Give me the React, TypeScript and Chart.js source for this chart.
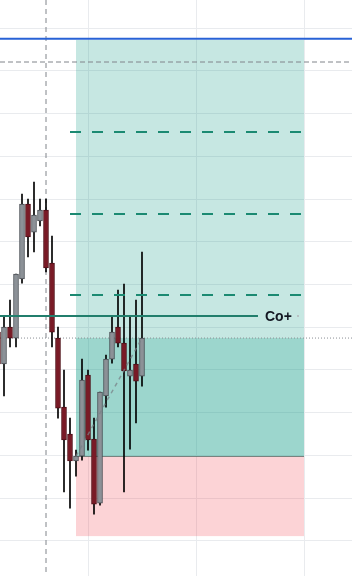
import React, { useEffect, useRef } from "react";
import { Chart, registerables } from "chart.js";

Chart.register(...registerables);

// ---- data ----
const BAR_INDEX = [0, 1, 2, 3, 4, 5, 6, 7, 8, 9, 10, 11, 12, 13, 14, 15, 16, 17, 18, 19, 20, 21, 22, 23, 24];
const OPEN = [94.43, 90.69, 95.02, 93.73, 100.64, 109.42, 106.14, 107.43, 108.72, 102.51, 93.73, 85.65, 82.49, 79.33, 79.91, 89.4, 81.9, 74.41, 86.94, 91.27, 95.02, 93.14, 89.28, 90.69, 89.28];
const HIGH = [94.43, 96.31, 98.18, 101.22, 110.59, 110.01, 112.0, 110.01, 110.01, 105.67, 95.02, 89.98, 84.36, 80.61, 91.27, 89.98, 84.36, 87.41, 91.74, 96.31, 99.35, 100.05, 96.31, 98.18, 103.8];
const LOW = [90.69, 86.94, 92.68, 92.68, 100.17, 103.22, 103.8, 106.85, 101.46, 92.68, 84.36, 75.7, 73.82, 77.57, 79.44, 80.61, 73.12, 74.17, 85.65, 90.8, 92.68, 75.7, 80.73, 83.78, 88.11];
const CLOSE = [90.69, 95.02, 93.73, 101.22, 109.42, 105.56, 108.13, 108.72, 101.93, 94.43, 85.53, 81.79, 79.33, 79.91, 88.81, 81.79, 74.29, 87.41, 91.27, 94.43, 93.14, 89.87, 89.98, 88.69, 93.73];

const X_MIN = 0.333;
const X_MAX = 59;
const Y_MIN = 65.87;
const Y_MAX = 133.31;
const X_GRID = [15, 33, 51];
const Y_GRID = [70, 75, 80, 85, 90, 95, 100, 105, 110, 115, 120, 125, 130];

const BLUE_LEVEL = 128.78;
const TARGET_LEVELS = [117.85, 108.25, 98.77];
const TARGET_LINE_START = 12;
const TARGET_LINE_END = 50.67;
const CO_LEVEL = 96.31;
const CO_LINE_END = 43.33;
const CO_LABEL = "Co+";
const CO_LABEL_X = 44.5;
const ENTRY = 93.73;
const STOP = 79.91;
const ZONE_TOP = 128.63;
const ZONE_BOTTOM = 70.54;
const POS_START = 13;
const POS_END = 51;
const CROSS_X = 8;
const CROSS_Y = 126.05;
const PATH_FROM = { x: 13, y: 79.91 };
const PATH_TO = { x: 24, y: 93.73 };

const UP_FILL = "#8c9197";
const UP_EDGE = "#4b4f55";
const DOWN_FILL = "#7a1a26";
const DOWN_EDGE = "#4e0f17";

const zonesPlugin = {
  id: "zones",
  beforeDatasetsDraw(chart: any) {
    const { ctx, scales } = chart;
    const x = scales.x;
    const y = scales.y;
    const l = x.getPixelForValue(POS_START);
    const r = x.getPixelForValue(POS_END);
    const fillZone = (a: number, b: number, color: string) => {
      const t = y.getPixelForValue(a);
      const btm = y.getPixelForValue(b);
      ctx.save();
      ctx.fillStyle = color;
      ctx.fillRect(l, t, r - l, btm - t);
      ctx.restore();
    };
    fillZone(ZONE_TOP, ENTRY, "rgba(8,153,129,0.23)");
    fillZone(ENTRY, STOP, "rgba(8,153,129,0.40)");
    fillZone(STOP, ZONE_BOTTOM, "rgba(242,54,69,0.22)");
    const sy = Math.round(y.getPixelForValue(STOP)) + 0.5;
    ctx.save();
    ctx.strokeStyle = "rgba(90,110,105,0.8)";
    ctx.lineWidth = 1;
    ctx.beginPath();
    ctx.moveTo(l, sy);
    ctx.lineTo(r, sy);
    ctx.stroke();
    ctx.restore();
  },
  afterDatasetsDraw(chart: any) {
    const { ctx, scales } = chart;
    const x = scales.x;
    const y = scales.y;
    ctx.save();
    ctx.font = 'bold 14px "Liberation Sans", Arial, sans-serif';
    ctx.fillStyle = "#131722";
    ctx.textBaseline = "middle";
    ctx.textAlign = "left";
    ctx.fillText(CO_LABEL, x.getPixelForValue(CO_LABEL_X), y.getPixelForValue(CO_LEVEL) + 1);
    ctx.fillStyle = "#b0b4b8";
    ctx.beginPath();
    ctx.arc(x.getPixelForValue(50), y.getPixelForValue(CO_LEVEL), 1, 0, Math.PI * 2);
    ctx.fill();
    ctx.restore();
  },
};

function lineDs(points: { x: number; y: number }[], color: string, width: number, dash: number[] = [], order = 0) {
  return {
    type: "line" as const,
    data: points,
    borderColor: color,
    borderWidth: width,
    borderDash: dash,
    pointRadius: 0,
    fill: false,
    tension: 0,
    order,
  };
}

export default function App() {
  const ref = useRef<HTMLCanvasElement | null>(null);

  useEffect(() => {
    document.body.style.margin = "0";
    if (!ref.current) return;
    const isUp = BAR_INDEX.map((i) => CLOSE[i] >= OPEN[i]);
    const datasets: any[] = [
      lineDs([{ x: X_MIN, y: BLUE_LEVEL }, { x: X_MAX, y: BLUE_LEVEL }], "#2862d6", 2),
      lineDs([{ x: CROSS_X, y: Y_MAX }, { x: CROSS_X, y: Y_MIN }], "#80848a", 1, [5, 4], 3),
      lineDs([{ x: X_MIN, y: CROSS_Y }, { x: X_MAX, y: CROSS_Y }], "#80848a", 1, [5, 3], 3),
      lineDs([{ x: X_MIN, y: ENTRY }, { x: X_MAX, y: ENTRY }], "#8a8e94", 1, [1, 2], 3),
      ...TARGET_LEVELS.map((lv) =>
        lineDs([{ x: TARGET_LINE_START, y: lv }, { x: TARGET_LINE_END, y: lv }], "#1b8a72", 2, [11, 11])
      ),
      lineDs([{ x: X_MIN, y: CO_LEVEL }, { x: CO_LINE_END, y: CO_LEVEL }], "#217e6c", 2),
      lineDs([PATH_FROM, PATH_TO], "rgba(120,130,135,0.75)", 1.5, [4, 4]),
      {
        type: "bar",
        data: BAR_INDEX.map((i) => ({ x: i, y: [OPEN[i], CLOSE[i]] })),
        backgroundColor: isUp.map((u) => (u ? UP_FILL : DOWN_FILL)),
        borderColor: isUp.map((u) => (u ? UP_EDGE : DOWN_EDGE)),
        borderWidth: 1,
        borderSkipped: false,
        barThickness: 5,
        grouped: false,
        order: 1,
      },
      {
        type: "bar",
        data: BAR_INDEX.map((i) => ({ x: i, y: [LOW[i], HIGH[i]] })),
        backgroundColor: "#000000",
        borderWidth: 0,
        barThickness: 1,
        grouped: false,
        order: 2,
      },
    ];
    const chart = new Chart(ref.current, {
      type: "bar",
      data: { datasets },
      options: {
        animation: false,
        responsive: false,
        devicePixelRatio: 1,
        layout: { padding: 0 },
        plugins: { legend: { display: false }, tooltip: { enabled: false } },
        scales: {
          x: {
            type: "linear",
            min: X_MIN,
            max: X_MAX,
            offset: false,
            border: { display: false },
            ticks: { display: false },
            grid: { color: "#e9ebee", drawTicks: false, offset: false },
            afterBuildTicks: (s: any) => {
              s.ticks = X_GRID.map((v) => ({ value: v }));
            },
          },
          y: {
            type: "linear",
            min: Y_MIN,
            max: Y_MAX,
            border: { display: false },
            ticks: { display: false },
            grid: { color: "#e9ebee", drawTicks: false },
            afterBuildTicks: (s: any) => {
              s.ticks = Y_GRID.map((v) => ({ value: v }));
            },
          },
        },
      } as any,
      plugins: [zonesPlugin],
    });
    return () => chart.destroy();
  }, []);

  return (
    <div style={{ width: 352, height: 576 }}>
      <canvas ref={ref} width={352} height={576} style={{ display: "block" }} />
    </div>
  );
}
